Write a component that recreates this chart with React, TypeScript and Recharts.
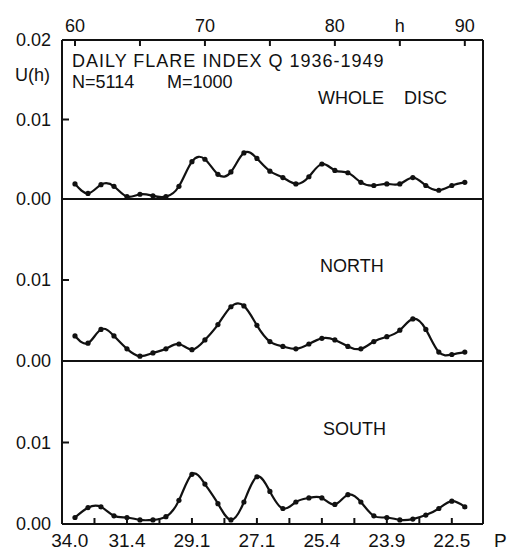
import React from 'react';
import { LineChart, Line, XAxis, YAxis, ReferenceLine } from 'recharts';

// Harmonic number h (one point per integer h)
const H = [60, 61, 62, 63, 64, 65, 66, 67, 68, 69, 70, 71, 72, 73, 74, 75, 76, 77, 78, 79, 80, 81, 82, 83, 84, 85, 86, 87, 88, 89, 90];

// U(h) for the whole disc, northern and southern hemispheres
const WHOLE_DISC = [0.0019, 0.0007, 0.0018, 0.0016, 0.0003, 0.0006, 0.0004, 0.0003, 0.0016, 0.0047, 0.0050, 0.0031, 0.0034, 0.0058, 0.0051, 0.0035, 0.0027, 0.0019, 0.0028, 0.0044, 0.0036, 0.0033, 0.0021, 0.0017, 0.0019, 0.0019, 0.0027, 0.0017, 0.0011, 0.0017, 0.0021];
const NORTH = [0.0031, 0.0022, 0.0039, 0.0031, 0.0015, 0.0006, 0.0010, 0.0015, 0.0021, 0.0014, 0.0026, 0.0045, 0.0067, 0.0068, 0.0044, 0.0024, 0.0018, 0.0015, 0.0021, 0.0028, 0.0026, 0.0018, 0.0015, 0.0024, 0.0030, 0.0038, 0.0052, 0.0039, 0.0011, 0.0008, 0.0011];
const SOUTH = [0.0008, 0.0020, 0.0021, 0.0010, 0.0008, 0.0005, 0.0005, 0.0009, 0.0029, 0.0061, 0.0049, 0.0025, 0.0005, 0.0027, 0.0058, 0.0040, 0.0019, 0.0027, 0.0032, 0.0032, 0.0024, 0.0036, 0.0027, 0.0010, 0.0008, 0.0005, 0.0006, 0.0011, 0.0019, 0.0028, 0.0021];

// Top axis (h) ticks and their labels
const TOP_TICKS = [60, 65, 70, 75, 80, 85, 90];
const TOP_LABELS: Record<number, string> = { 60: '60', 70: '70', 80: '80', 85: 'h', 90: '90' };

// Bottom axis (period P) tick marks and labels
const P_MARKS = [61.5, 64, 66.5, 69, 71.5, 74, 76.5, 79, 81.5, 84, 86.5, 89];
const P_LABEL_POS = [59.6, 64, 69, 74, 79, 84, 89];
const P_LABELS = ['34.0', '31.4', '29.1', '27.1', '25.4', '23.9', '22.5'];

const U_TICKS_TOP = [0, 0.01, 0.02];
const U_TICKS = [0, 0.01];

const X_DOMAIN: [number, number] = [59, 91.4];
const U_DOMAIN: [number, number] = [0, 0.02];

const rows = H.map((h, i) => ({ h, whole: WHOLE_DISC[i], north: NORTH[i], south: SOUTH[i] }));

const FONT = '"Liberation Sans", Arial, Helvetica, sans-serif';
const INK = '#111';
const W = 509;

const LeftTick = (props: any) => {
  const { x, y, payload } = props;
  const v = payload.value as number;
  return (
    <g>
      {v > 0.005 && v < 0.015 && <line x1={x} y1={y} x2={x + 7} y2={y} stroke={INK} strokeWidth={2} />}
      <text x={x - 11} y={y + 6} textAnchor="end" fontSize={18} fontFamily={FONT} fill={INK}>
        {v.toFixed(2)}
      </text>
    </g>
  );
};

const RightTick = (props: any) => {
  const { x, y, payload } = props;
  const v = payload.value as number;
  if (!(v > 0.005 && v < 0.015)) return <g />;
  return <line x1={x} y1={y} x2={x - 7} y2={y} stroke={INK} strokeWidth={2} />;
};

const TopTick = (props: any) => {
  const { x, y, payload } = props;
  const v = payload.value as number;
  return (
    <g>
      <line x1={x} y1={y} x2={x} y2={y + 6} stroke={INK} strokeWidth={2} />
      {TOP_LABELS[v] && (
        <text x={x} y={y - 8} textAnchor="middle" fontSize={18} fontFamily={FONT} fill={INK}>
          {TOP_LABELS[v]}
        </text>
      )}
    </g>
  );
};

const BottomTick = (props: any) => {
  const { x, y, payload } = props;
  const v = payload.value as number;
  const li = P_LABEL_POS.indexOf(v);
  return (
    <g>
      {P_MARKS.includes(v) && <line x1={x} y1={y} x2={x} y2={y - 6} stroke={INK} strokeWidth={2} />}
      {li >= 0 && (
        <text x={x} y={y + 23} textAnchor="middle" fontSize={19} fontFamily={FONT} fill={INK}>
          {P_LABELS[li]}
        </text>
      )}
    </g>
  );
};

const BOTTOM_TICKS = Array.from(new Set([...P_MARKS, ...P_LABEL_POS])).sort((a, b) => a - b);

const frame = { stroke: INK, strokeWidth: 2 };

const Dot = (props: any) => {
  const { cx, cy } = props;
  if (cx == null || cy == null) return <g />;
  return <circle cx={cx} cy={cy} r={2.6} fill={INK} />;
};

const series = (key: string) => (
  <Line
    type="natural"
    dataKey={key}
    stroke={INK}
    strokeWidth={2.2}
    dot={<Dot />}
    activeDot={false}
    isAnimationActive={false}
  />
);

const yAxes = (ticks: number[]) => [
  <YAxis
    key="l"
    yAxisId={0}
    orientation="left"
    width={62}
    domain={U_DOMAIN}
    ticks={ticks}
    type="number"
    interval={0}
    tickLine={false}
    tickSize={0}
    tickMargin={0}
    axisLine={frame}
    tick={<LeftTick />}
  />,
  <YAxis
    key="r"
    yAxisId="r"
    orientation="right"
    width={26}
    domain={U_DOMAIN}
    ticks={ticks}
    type="number"
    interval={0}
    tickLine={false}
    tickSize={0}
    tickMargin={0}
    axisLine={frame}
    tick={<RightTick />}
  />,
];

// Each panel's svg reaches a little below its baseline so the "0.00" label is not clipped
const SPILL = 12;

export default function App() {
  return (
    <div style={{ position: 'absolute', left: 0, top: 0, width: W, height: 552, background: '#fff' }}>
      {/* Whole disc panel with the h axis on top */}
      <div style={{ position: 'absolute', left: 0, top: 0 }}>
        <LineChart width={W} height={199 + SPILL} data={rows} margin={{ top: 0, right: 0, bottom: SPILL, left: 0 }}>
          <XAxis
            dataKey="h"
            type="number"
            orientation="top"
            height={40}
            domain={X_DOMAIN}
            ticks={TOP_TICKS}
            interval={0}
            tickLine={false}
            tickSize={0}
            tickMargin={0}
            axisLine={frame}
            tick={<TopTick />}
          />
          {yAxes(U_TICKS_TOP)}
          <ReferenceLine y={0} stroke={INK} strokeWidth={2} />
          {series('whole')}
        </LineChart>
      </div>

      {/* Northern hemisphere */}
      <div style={{ position: 'absolute', left: 0, top: 199 }}>
        <LineChart width={W} height={162 + SPILL} data={rows} margin={{ top: 0, right: 0, bottom: SPILL, left: 0 }}>
          <XAxis dataKey="h" type="number" domain={X_DOMAIN} hide />
          {yAxes(U_TICKS)}
          <ReferenceLine y={0} stroke={INK} strokeWidth={2} />
          {series('north')}
        </LineChart>
      </div>

      {/* Southern hemisphere with the period axis below */}
      <div style={{ position: 'absolute', left: 0, top: 361 }}>
        <LineChart width={W} height={191} data={rows} margin={{ top: 0, right: 0, bottom: 0, left: 0 }}>
          <XAxis
            dataKey="h"
            type="number"
            orientation="bottom"
            height={28}
            domain={X_DOMAIN}
            ticks={BOTTOM_TICKS}
            interval={0}
            tickLine={false}
            tickSize={0}
            tickMargin={0}
            axisLine={frame}
            tick={<BottomTick />}
          />
          {yAxes(U_TICKS)}
          {series('south')}
        </LineChart>
      </div>

      {/* Titles and axis names */}
      <svg
        width={W}
        height={552}
        style={{ position: 'absolute', left: 0, top: 0, pointerEvents: 'none' }}
        fontFamily={FONT}
        fill={INK}
        fontSize={18}
      >
        <text x={50} y={81} textAnchor="end">U(h)</text>
        <text x={72} y={67} letterSpacing={1}>DAILY FLARE INDEX Q 1936-1949</text>
        <text x={72} y={88}>N=5114</text>
        <text x={167} y={88}>M=1000</text>
        <text x={318} y={104}>WHOLE</text>
        <text x={404} y={104}>DISC</text>
        <text x={320} y={272}>NORTH</text>
        <text x={323} y={435}>SOUTH</text>
        <text x={494} y={547} fontSize={19}>P</text>
      </svg>
    </div>
  );
}
